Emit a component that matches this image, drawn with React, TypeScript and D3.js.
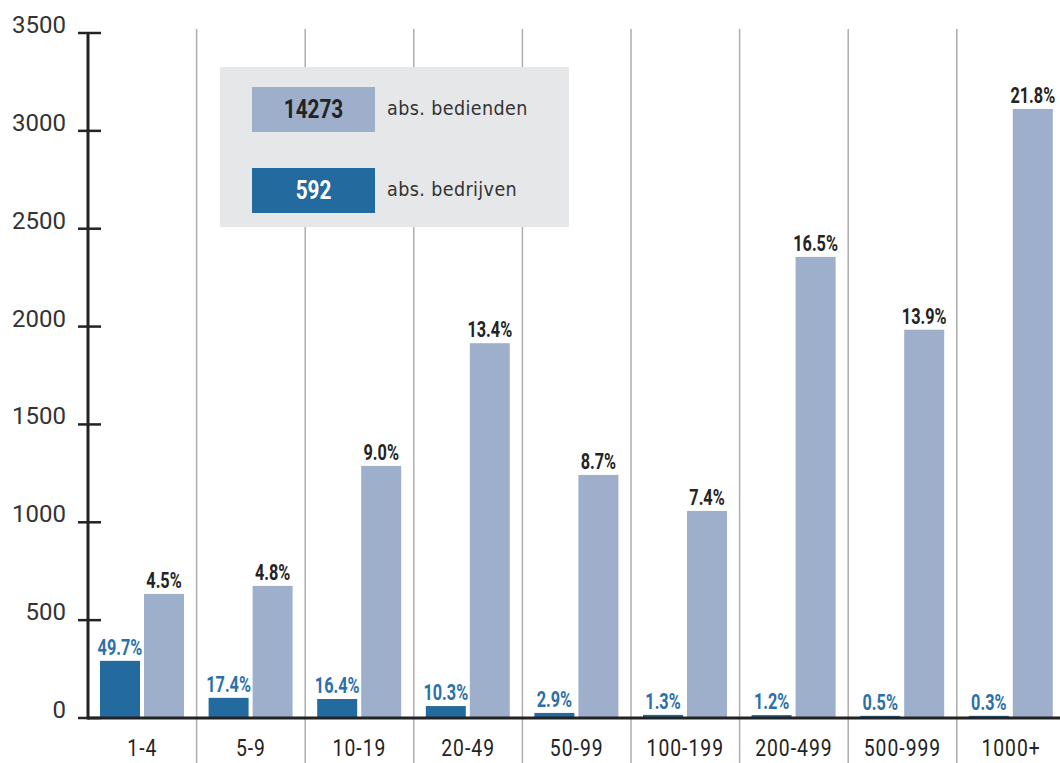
import React, { useEffect, useRef } from 'react'
import * as d3 from 'd3'

// size classes (number of employees)
const categories = ['1-4', '5-9', '10-19', '20-49', '50-99', '100-199', '200-499', '500-999', '1000+']
// abs. bedrijven (companies)
const bedrijven = [292, 103, 97, 61, 26, 16, 15, 11, 11]
const bedrijvenPct = ['49.7%', '17.4%', '16.4%', '10.3%', '2.9%', '1.3%', '1.2%', '0.5%', '0.3%']
// abs. bedienden (employees)
const bedienden = [634, 675, 1288, 1915, 1242, 1058, 2356, 1984, 3112]
const bediendenPct = ['4.5%', '4.8%', '9.0%', '13.4%', '8.7%', '7.4%', '16.5%', '13.9%', '21.8%']
const yTicks = [0, 500, 1000, 1500, 2000, 2500, 3000, 3500]
const legendItems = [
  { value: '14273', label: 'abs. bedienden', kind: 'light' },
  { value: '592', label: 'abs. bedrijven', kind: 'dark' },
]

const DARK = '#236a9e'
const LIGHT = '#9eafcc'
const DARK_TEXT = '#2b70a8'
const INK = '#232323'
const BOLD = 'Roboto, "DejaVu Sans Condensed", sans-serif'
const COND = '"DejaVu Sans Condensed", sans-serif'

export default function App() {
  const ref = useRef<SVGSVGElement>(null)

  useEffect(() => {
    if (!ref.current) return
    const svg = d3.select(ref.current)
    svg.selectAll('*').remove()

    const left = 88
    const groupW = 108.6
    const x = d3.scaleBand<string>()
      .domain(categories)
      .range([left, left + groupW * categories.length])
      .paddingInner(0)
      .paddingOuter(0)
    const y = d3.scaleLinear().domain([0, 3500]).range([718, 33])

    const barW = 40
    const darkOff = 12
    const lightOff = 56

    // vertical group separators
    svg.append('g')
      .selectAll('line')
      .data(categories.slice(1))
      .enter()
      .append('line')
      .attr('x1', d => x(d)!)
      .attr('x2', d => x(d)!)
      .attr('y1', 29)
      .attr('y2', 763)
      .attr('stroke', '#adadad')
      .attr('stroke-width', 1.5)

    // legend box
    const legend = svg.append('g')
    legend.append('rect')
      .attr('x', 220).attr('y', 67)
      .attr('width', 349).attr('height', 160)
      .attr('fill', '#e6e7e9')
    legendItems.forEach((it, i) => {
      const top = i === 0 ? 87 : 168
      legend.append('rect')
        .attr('x', 252).attr('y', top)
        .attr('width', 123).attr('height', 45)
        .attr('fill', it.kind === 'light' ? LIGHT : DARK)
      legend.append('text')
        .attr('transform', `translate(313.5,${top + 31}) scale(0.83,1)`)
        .attr('text-anchor', 'middle')
        .attr('fill', it.kind === 'light' ? INK : '#ffffff')
        .style('font-family', BOLD)
        .style('font-weight', '700')
        .style('font-size', '25px')
        .text(it.value)
      legend.append('text')
        .attr('x', 387).attr('y', top + 28)
        .attr('fill', '#333333')
        .style('font-family', COND)
        .style('font-size', '19.5px')
        .style('letter-spacing', '0.4px')
        .text(it.label)
    })

    // bars
    const bars = svg.append('g')
    bars.selectAll('rect.dark')
      .data(categories)
      .enter()
      .append('rect')
      .attr('class', 'dark')
      .attr('x', d => x(d)! + darkOff)
      .attr('y', (d, i) => y(bedrijven[i]))
      .attr('width', barW)
      .attr('height', (d, i) => y(0) - y(bedrijven[i]))
      .attr('fill', DARK)
    bars.selectAll('rect.light')
      .data(categories)
      .enter()
      .append('rect')
      .attr('class', 'light')
      .attr('x', d => x(d)! + lightOff)
      .attr('y', (d, i) => y(bedienden[i]))
      .attr('width', barW)
      .attr('height', (d, i) => y(0) - y(bedienden[i]))
      .attr('fill', LIGHT)

    // percent labels
    const labels = svg.append('g')
      .style('font-family', BOLD)
      .style('font-weight', '700')
      .style('font-size', '22px')
      .attr('text-anchor', 'middle')
    categories.forEach((c, i) => {
      labels.append('text')
        .attr('transform', `translate(${x(c)! + darkOff + barW / 2},${y(bedrijven[i]) - 6}) scale(0.74,1)`)
        .attr('fill', DARK_TEXT)
        .text(bedrijvenPct[i])
      labels.append('text')
        .attr('transform', `translate(${x(c)! + lightOff + barW / 2},${y(bedienden[i]) - 6}) scale(0.74,1)`)
        .attr('fill', INK)
        .text(bediendenPct[i])
    })

    // category labels
    svg.append('g')
      .selectAll('text')
      .data(categories)
      .enter()
      .append('text')
      .attr('transform', d => `translate(${x(d)! + x.bandwidth() / 2},756) scale(0.84,1)`)
      .attr('text-anchor', 'middle')
      .attr('fill', INK)
      .style('font-family', 'Roboto, sans-serif')
      .style('font-size', '23px')
      .style('letter-spacing', '1.2px')
      .text(d => d)

    // y axis
    const axis = svg.append('g')
    axis.append('line')
      .attr('x1', left).attr('x2', left)
      .attr('y1', y(3500) - 1).attr('y2', y(0) + 1.5)
      .attr('stroke', INK).attr('stroke-width', 3)
    axis.selectAll('line.tick')
      .data(yTicks)
      .enter()
      .append('line')
      .attr('class', 'tick')
      .attr('x1', 78).attr('x2', 101)
      .attr('y1', d => y(d)).attr('y2', d => y(d))
      .attr('stroke', INK).attr('stroke-width', 2.5)
    axis.selectAll('text')
      .data(yTicks)
      .enter()
      .append('text')
      .attr('x', 66)
      .attr('y', d => y(d))
      .attr('text-anchor', 'end')
      .attr('fill', '#333333')
      .style('font-family', 'Roboto, sans-serif')
      .style('font-size', '24px')
      .text(d => String(d))

    // baseline
    svg.append('line')
      .attr('x1', left).attr('x2', 1060)
      .attr('y1', y(0)).attr('y2', y(0))
      .attr('stroke', INK).attr('stroke-width', 3)
  }, [])

  return (
    <svg
      ref={ref}
      width={1060}
      height={763}
      style={{ position: 'absolute', left: 0, top: 0, background: '#ffffff' }}
    />
  )
}
